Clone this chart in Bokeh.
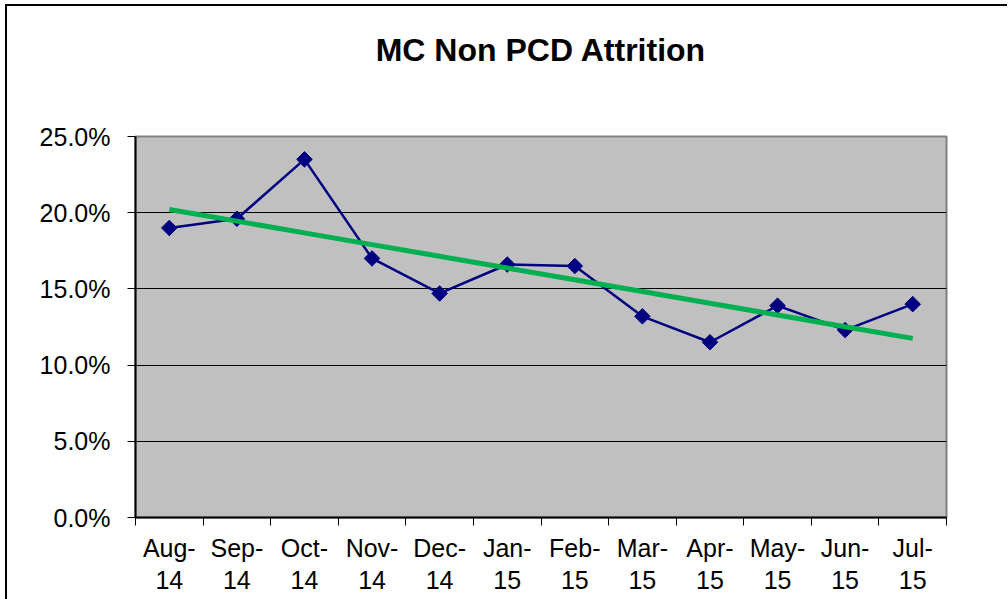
import numpy as np
from bokeh.plotting import figure
from bokeh.models import FixedTicker, Range1d, PrintfTickFormatter, CustomJSTickFormatter, ColumnDataSource
from bokeh.embed import file_html
from bokeh.resources import INLINE

title_text = "MC Non PCD Attrition"
months = ["Aug-\n14", "Sep-\n14", "Oct-\n14", "Nov-\n14", "Dec-\n14", "Jan-\n15",
          "Feb-\n15", "Mar-\n15", "Apr-\n15", "May-\n15", "Jun-\n15", "Jul-\n15"]
attrition = [19.0, 19.6, 23.5, 17.0, 14.7, 16.6, 16.5, 13.2, 11.5, 13.9, 12.3, 14.0]
y_ticks = [0, 5, 10, 15, 20, 25]

n = len(months)
xs = [i + 0.5 for i in range(n)]
coef = np.polyfit(np.arange(n), attrition, 1)
trend = [float(coef[0] * i + coef[1]) for i in range(n)]

src = ColumnDataSource(dict(x=xs, y=attrition, trend=trend))

FONT = "Liberation Sans"

p = figure(width=1000, height=593, output_backend="svg", toolbar_location=None,
           x_range=Range1d(0, n), y_range=Range1d(0, 25),
           frame_width=811, frame_height=381,
           min_border_left=128, min_border_top=130, min_border_right=61, min_border_bottom=82)

# trailing blank line lifts the title away from the plot area
p.title.text = title_text + "\n "
p.title.align = "center"
p.title.text_font = FONT
p.title.text_font_size = "32px"
p.title.text_font_style = "bold"
p.title.text_color = "black"
p.title.text_line_height = 1.62
p.title.standoff = 20

p.background_fill_color = "#C0C0C0"
p.border_fill_color = "white"
p.outline_line_color = "#808080"
p.outline_line_width = 2

# y axis
p.yaxis.ticker = FixedTicker(ticks=y_ticks)
p.yaxis.formatter = PrintfTickFormatter(format="%.1f%%")
p.yaxis.major_tick_out = 8
p.yaxis.major_tick_in = 0
p.yaxis.minor_tick_line_color = None
p.yaxis.axis_line_color = "black"
p.yaxis.axis_line_width = 2
p.yaxis.major_tick_line_color = "black"
p.yaxis.major_label_text_font = FONT
p.yaxis.major_label_text_font_size = "25px"
p.yaxis.major_label_text_color = "black"
p.yaxis.major_label_standoff = 17

# x axis: labels at category centres, tick marks at category boundaries
p.xaxis.ticker = FixedTicker(ticks=xs, minor_ticks=list(range(n + 1)))
p.xaxis.formatter = CustomJSTickFormatter(args=dict(labels=months),
                                          code="return labels[Math.floor(tick)];")
p.xaxis.major_tick_line_color = None
p.xaxis.major_tick_out = 8
p.xaxis.major_tick_in = 0
p.xaxis.minor_tick_line_color = "black"
p.xaxis.minor_tick_out = 8
p.xaxis.minor_tick_in = 0
p.xaxis.axis_line_color = "black"
p.xaxis.axis_line_width = 2
p.xaxis.major_label_text_font = FONT
p.xaxis.major_label_text_font_size = "25px"
p.xaxis.major_label_text_color = "black"
p.xaxis.major_label_standoff = 8
p.xaxis.major_label_text_line_height = 1.15

p.xgrid.grid_line_color = None
p.ygrid.ticker = FixedTicker(ticks=[5, 10, 15, 20])
p.ygrid.grid_line_color = "black"
p.ygrid.grid_line_width = 1

p.line("x", "y", source=src, line_color="#000080", line_width=2.5)
p.scatter("x", "y", source=src, marker="square", angle=np.pi / 4, size=11,
          fill_color="#000080", line_color="#000080")
p.line("x", "trend", source=src, line_color="#00B050", line_width=5)

p.styles = {"border-left": "2px solid black", "border-top": "2px solid black",
            "margin-left": "5px", "margin-top": "4px"}

open("out.html", "w").write(file_html(p, INLINE))
